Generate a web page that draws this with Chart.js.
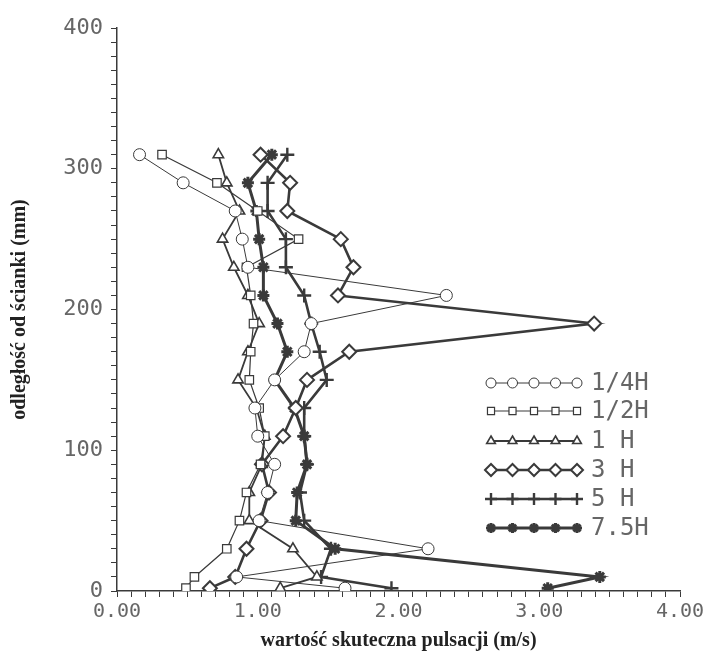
<!DOCTYPE html>
<html>
<head>
<meta charset="utf-8">
<script src="https://cdn.jsdelivr.net/npm/chart.js@4.4.1/dist/chart.umd.min.js"></script>
<style>
  body { margin: 0; background: #fff; }
  #wrap { width: 704px; height: 661px; }
</style>
</head>
<body>
<div id="wrap"><canvas id="chart-pulsacje"></canvas></div>
<script>
// odległość od ścianki (mm) - wspólna dla wszystkich serii
depths = [310, 290, 270, 250, 230, 210, 190, 170, 150, 130, 110, 90, 70, 50, 30, 10, 2];

// wartość skuteczna pulsacji (m/s)
h025 = [0.16, 0.47, 0.84, 0.89, 0.93, 2.34, 1.38, 1.33, 1.12, 0.98, 1.00, 1.12, 1.07, 1.01, 2.21, 0.85, 1.62];
h05  = [0.32, 0.71, 1.00, 1.29, 0.92, 0.95, 0.97, 0.95, 0.94, 1.01, 1.05, 1.02, 0.92, 0.87, 0.78, 0.55, 0.49];
h1   = [0.72, 0.78, 0.87, 0.75, 0.83, 0.93, 1.01, 0.93, 0.86, 0.99, 1.05, 1.03, 0.94, 0.94, 1.25, 1.42, 1.16];
h3   = [1.02, 1.23, 1.21, 1.59, 1.68, 1.57, 3.39, 1.65, 1.35, 1.27, 1.18, 1.03, 1.08, 1.02, 0.92, 0.84, 0.66];
h5   = [1.21, 1.07, 1.07, 1.20, 1.20, 1.33, 1.38, 1.44, 1.49, 1.33, 1.33, 1.35, 1.30, 1.33, 1.52, 1.45, 1.95];
h75  = [1.10, 0.93, 0.99, 1.01, 1.04, 1.04, 1.14, 1.21, 1.12, 1.26, 1.33, 1.35, 1.28, 1.27, 1.55, 3.43, 3.06];

seriesLabels = ['1/4H', '1/2H', '1 H', '3 H', '5 H', '7.5H'];
seriesValues = [h025, h05, h1, h3, h5, h75];

inkColor = '#3a3a3a';
textColor = '#666';
plotFont = 'DejaVu Sans Mono';

styles = [
    { pointStyle: 'circle', radius: 6, borderWidth: 1, lineWidth: 1, fill: false },
    { pointStyle: 'rect', radius: 6, borderWidth: 1.2, lineWidth: 1.2, fill: false },
    { pointStyle: 'triangle', radius: 6, borderWidth: 1.6, lineWidth: 1.8, fill: false },
    { pointStyle: 'rectRot', radius: 7, borderWidth: 2, lineWidth: 2.6, fill: false },
    { pointStyle: 'cross', radius: 7, borderWidth: 2.4, lineWidth: 2.6, fill: false },
    { pointStyle: 'star', radius: 6, borderWidth: 3, lineWidth: 3, fill: true },
];

var datasets = seriesLabels.map((label, i) => {
    const s = styles[i];
    return {
        label: label,
        data: seriesValues[i].map((v, j) => ({ x: v, y: depths[j] })),
        showLine: true,
        borderColor: inkColor,
        borderWidth: s.lineWidth,
        pointStyle: s.pointStyle,
        pointRadius: s.radius,
        pointBorderWidth: s.borderWidth,
        pointBorderColor: inkColor,
        pointBackgroundColor: s.fill ? inkColor : '#fff',
        tension: 0,
    };
});

// legenda w obszarze wykresu: linia z pięcioma znacznikami i opis
const sampleLegend = {
    id: 'sampleLegend',
    afterDraw(chart) {
        const ctx = chart.ctx;
        const x0 = 491, x1 = 577, textX = 591;
        const rows = [383, 411, 441, 470, 499, 528];
        ctx.save();
        seriesLabels.forEach((label, i) => {
            const s = styles[i];
            const y = rows[i];
            ctx.strokeStyle = inkColor;
            ctx.lineWidth = s.lineWidth;
            ctx.beginPath();
            ctx.moveTo(x0, y);
            ctx.lineTo(x1, y);
            ctx.stroke();
            for (let k = 0; k < 5; k++) {
                const px = x0 + k * (x1 - x0) / 4;
                ctx.fillStyle = s.fill ? inkColor : '#fff';
                ctx.strokeStyle = inkColor;
                ctx.lineWidth = s.borderWidth;
                Chart.helpers.drawPoint(ctx, {
                    pointStyle: s.pointStyle,
                    radius: s.radius - 1,
                    borderWidth: s.borderWidth,
                    rotation: 0,
                }, px, y);
            }
            ctx.fillStyle = textColor;
            ctx.font = '24px "' + plotFont + '"';
            ctx.textBaseline = 'middle';
            ctx.textAlign = 'left';
            ctx.fillText(label, textX, y + 1);
        });
        ctx.restore();
    },
};

var ctx1 = document.getElementById('chart-pulsacje').getContext('2d');

new Chart(ctx1, {
    type: 'scatter',
    data: { datasets: datasets },
    options: {
        responsive: true,
        maintainAspectRatio: false,
        animation: false,
        layout: {
            padding: { top: 28, right: 24, left: 0, bottom: 0 },
        },
        plugins: {
            legend: { display: false },
            tooltip: { enabled: false },
        },
        scales: {
            x: {
                type: 'linear',
                min: 0,
                max: 4,
                afterFit: (scale) => {
                    scale.height = 70;
                    scale.paddingLeft = 0;
                    scale.paddingRight = 0;
                },
                border: { display: true, color: inkColor, width: 1.5 },
                grid: {
                    drawOnChartArea: false,
                    drawTicks: true,
                    tickLength: 6,
                    tickColor: inkColor,
                },
                ticks: {
                    stepSize: 0.1,
                    autoSkip: false,
                    maxRotation: 0,
                    padding: 3,
                    color: textColor,
                    font: { family: plotFont, size: 20 },
                    callback: (v) => Math.abs(v - Math.round(v)) < 1e-6 ? Number(v).toFixed(2) : '',
                },
                title: {
                    display: true,
                    text: 'wartość skuteczna pulsacji (m/s)',
                    color: '#222',
                    font: { family: 'Liberation Serif', size: 20, weight: 'bold' },
                    padding: { top: 0, bottom: 8 },
                },
            },
            y: {
                type: 'linear',
                min: 0,
                max: 400,
                afterFit: (scale) => {
                    scale.width = 117;
                    scale.paddingTop = 0;
                    scale.paddingBottom = 0;
                },
                border: { display: true, color: inkColor, width: 1.5 },
                grid: {
                    drawOnChartArea: false,
                    drawTicks: true,
                    tickLength: 6,
                    tickColor: inkColor,
                },
                ticks: {
                    stepSize: 10,
                    autoSkip: false,
                    padding: 8,
                    color: textColor,
                    font: { family: plotFont, size: 22 },
                    callback: (v) => v % 100 === 0 ? String(v) : '',
                },
                title: {
                    display: true,
                    text: 'odległość od ścianki (mm)',
                    color: '#222',
                    font: { family: 'Liberation Serif', size: 20, weight: 'bold' },
                    padding: { top: 8, bottom: 0 },
                },
            },
        },
    },
    plugins: [sampleLegend],
});
</script>
</body>
</html>
